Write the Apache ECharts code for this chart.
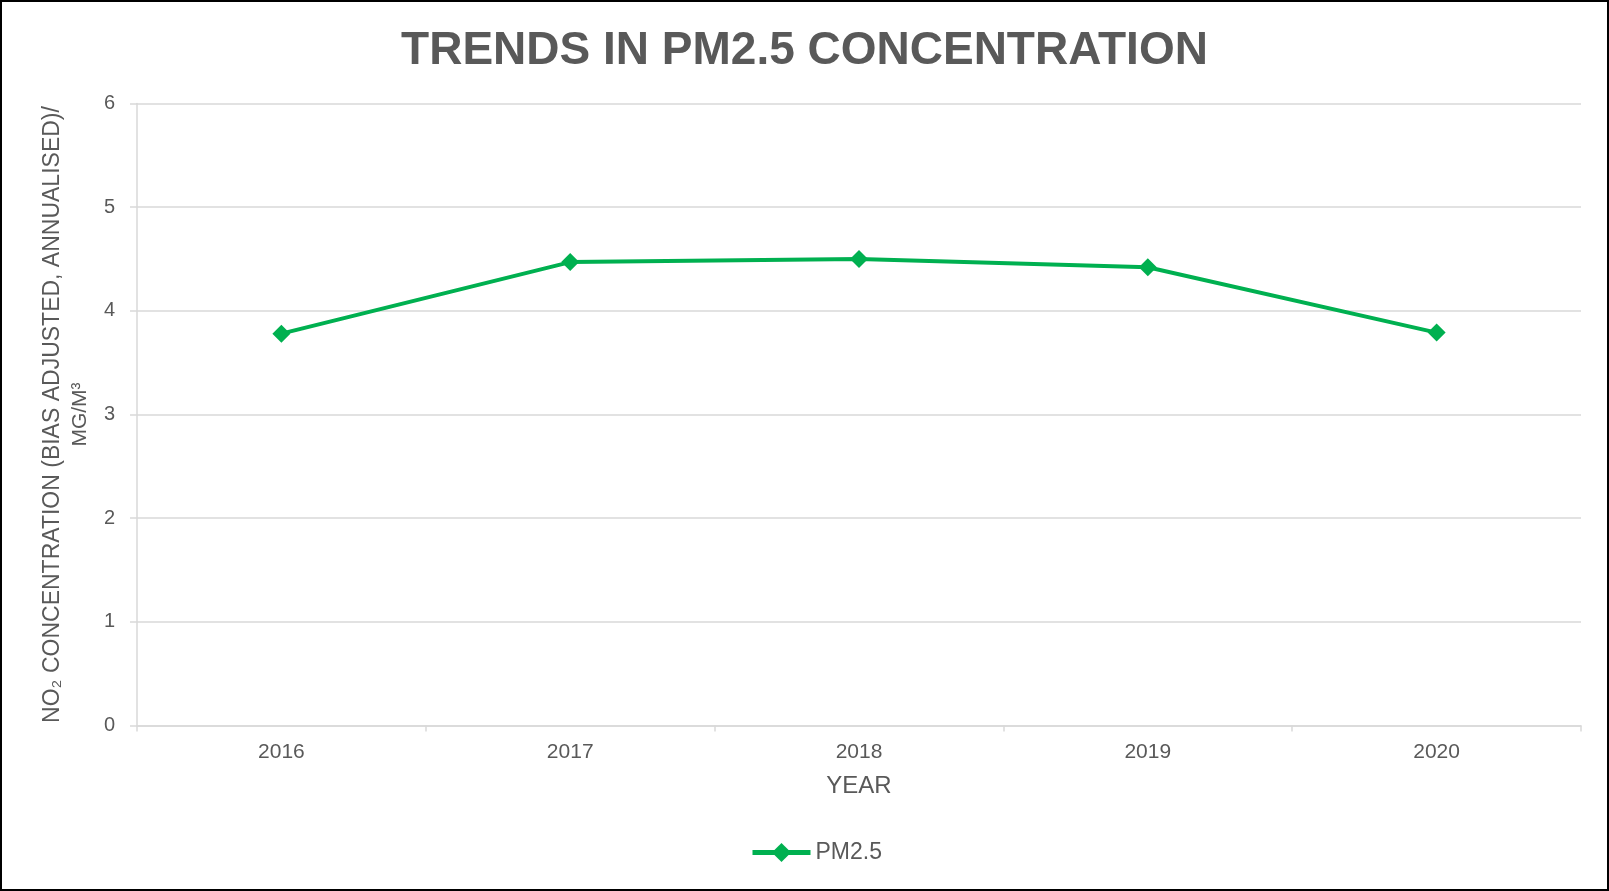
<!DOCTYPE html>
<html>
<head>
<meta charset="utf-8">
<script src="https://cdn.jsdelivr.net/npm/echarts@6/dist/echarts.min.js"></script>
<style>
  html, body { margin: 0; padding: 0; background: #fff; }
  #chart { width: 1609px; height: 891px; }
</style>
</head>
<body>
<div id="chart"></div>
<script>
// values
var years = ['2016', '2017', '2018', '2019', '2020'];
var pm25 = [3.78, 4.47, 4.50, 4.42, 3.79];
var yTicks = { min: 0, max: 6, interval: 1 };

var textGrey = '#595959';
var gridGrey = '#D9D9D9';
var green = '#00B050';
var font = 'Liberation Sans, Arial, sans-serif';

var myChart = echarts.init(document.getElementById('chart'));
myChart.setOption({
    animation: false,
    title: {
        text: 'TRENDS IN PM2.5 CONCENTRATION',
        left: 'center',
        top: 23,
        textStyle: {
            fontFamily: font,
            fontSize: 46,
            fontWeight: 'bold',
            color: textGrey
        }
    },
    legend: {
        data: ['PM2.5'],
        left: 745,
        top: 836,
        itemWidth: 58,
        itemHeight: 24,
        itemGap: 8,
        lineStyle: { width: 5 },
        textStyle: {
            fontFamily: font,
            fontSize: 23,
            color: textGrey
        }
    },
    grid: {
        left: 137,
        right: 28,
        top: 103.5,
        bottom: 165.5,
        containLabel: false
    },
    xAxis: [{
        type: 'category',
        data: years,
        boundaryGap: true,
        name: 'YEAR',
        nameLocation: 'middle',
        nameGap: 49,
        nameTextStyle: {
            fontFamily: font,
            fontSize: 24,
            color: textGrey
        },
        axisLine: { show: true, lineStyle: { color: gridGrey, width: 1.5 } },
        axisTick: { show: true, length: 6, lineStyle: { color: gridGrey, width: 1.5 } },
        axisLabel: {
            margin: 16,
            fontFamily: font,
            fontSize: 21,
            color: textGrey
        }
    }],
    yAxis: [{
        type: 'value',
        min: yTicks.min,
        max: yTicks.max,
        interval: yTicks.interval,
        name: '{a|NO₂ CONCENTRATION (BIAS ADJUSTED, ANNUALISED)/}\n{b|MG/M³}',
        nameLocation: 'middle',
        nameRotate: 90,
        nameGap: 44,
        nameTextStyle: {
            color: textGrey,
            align: 'center',
            rich: {
                a: { fontFamily: font, fontSize: 23, lineHeight: 28, color: textGrey },
                b: { fontFamily: font, fontSize: 21, lineHeight: 26, color: textGrey }
            }
        },
        axisLine: { show: true, lineStyle: { color: gridGrey, width: 1.5 } },
        axisTick: { show: true, length: 7, lineStyle: { color: gridGrey, width: 1.5 } },
        splitLine: { show: true, lineStyle: { color: gridGrey, width: 1.5 } },
        axisLabel: {
            margin: 22,
            fontFamily: font,
            fontSize: 20,
            color: textGrey
        }
    }],
    series: [{
        name: 'PM2.5',
        type: 'line',
        data: pm25,
        symbol: 'diamond',
        symbolSize: 18,
        lineStyle: { color: green, width: 4 },
        itemStyle: { color: green }
    }],
    graphic: [{
        type: 'rect',
        shape: { x: 1, y: 1, width: 1607, height: 889 },
        style: { fill: 'none', stroke: '#000', lineWidth: 2 },
        silent: true
    }]
});
</script>
</body>
</html>
